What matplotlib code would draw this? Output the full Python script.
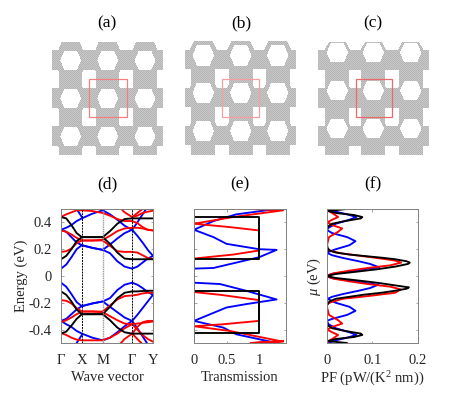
import numpy as np
from matplotlib import pyplot as plt
from matplotlib.patches import Rectangle

plt.rcParams["font.family"] = ["Liberation Serif", "DejaVu Serif"]
plt.rcParams["mathtext.fontset"] = "custom"
plt.rcParams["mathtext.rm"] = "Liberation Serif"
plt.rcParams["mathtext.it"] = "Liberation Serif:italic"

W, H = 464, 395
TEXT = "#262626"
FRAME = "#808080"

# top row lattices: hole centres, hole half sizes, rim, bar offsets, extents, cell box, box colour
panels = [
    dict(label="(a)", lx=107, xs=[70.7, 107.7, 145], ys=[60.3, 98.3, 136.3], hw=10.5, hh=9.5, rim=9.1, ow=16.5,
         bar=(-10, 10), vbar=11.5, ext=(52.3, 162.7, 41.7, 155), box=(89, 79.3, 37.7, 38), col="#f28080"),
    dict(label="(b)", lx=241, xs=[203.3, 240.7, 277.7], ys=[55.3, 92.9, 131], hw=10.8, hh=10.3, rim=4.6, ow=16.3,
         bar=(-5.3, 14), vbar=12, ext=(185, 296, 40.7, 155.3), box=(221.7, 79, 37.6, 38.3), col="#f4a0a0"),
    dict(label="(c)", lx=373, xs=[337.3, 373.3, 410.7], ys=[52.8, 90.7, 128.5], hw=10.8, hh=9.5, rim=2.0, ow=14.5,
         bar=(-2.8, 17.2), vbar=12, ext=(318.3, 429, 42, 155.3), box=(355.7, 79.3, 36.6, 38), col="#e86a6a"),
]

# (d) band structure, energies on a common k grid
k_ticks = [0, 1, 2, 3.41, 4.41]
k_names = ["Γ", "X", "M", "Γ", "Y"]
k_grid = [0, 0.25, 0.5, 0.75, 1, 1.5, 2, 2.35, 2.7, 3.05, 3.41, 3.66, 3.91, 4.16, 4.41]
nan = float("nan")

blue_bands = [
    [.055, .085, .14, .20, .23, .21, .195, .17, .11, .07, .055, .07, .10, .13, .15],
    [.345, .33, .29, .25, .23, .21, .195, .235, .28, .32, .345, .30, .25, .195, .15],
    [.345, .36, .38, .41, .43, .465, .49, .46, .42, .375, .345, .40, .46, .52, .56],
    [.62, .60, .56, .50, .44, nan, nan, nan, nan, nan, nan, nan, nan, nan, nan],
    [-.05, -.08, -.135, -.195, -.225, -.205, -.19, -.165, -.105, -.065, -.05, -.065, -.09, -.12, -.14],
    [-.335, -.32, -.285, -.25, -.225, -.205, -.19, -.23, -.27, -.31, -.335, -.29, -.24, -.19, -.14],
    [-.335, -.36, -.38, -.41, -.43, -.46, -.48, -.46, -.42, -.375, -.335, -.39, -.45, -.51, -.56],
    [-.62, -.60, -.56, -.50, -.44, nan, nan, nan, nan, nan, nan, nan, nan, nan, nan],
]
red_bands = [
    [.18, .185, .205, .245, .265, .265, .265, .225, .185, .18, .18, .175, .155, .135, .125],
    [.34, .33, .31, .285, .265, .265, .27, .30, .335, .355, .36, .36, .355, .345, .34],
    [.44, .46, .475, .49, .49, .485, .47, .45, .425, .41, .41, .395, .365, .345, .34],
    [nan, nan, nan, nan, nan, nan, nan, .62, .53, .475, .44, .47, .50, .54, .58],
    [nan, nan, nan, nan, nan, nan, nan, nan, nan, nan, .44, .45, .47, .48, .487],
    [-.18, -.185, -.205, -.24, -.265, -.265, -.265, -.22, -.175, -.15, -.145, -.14, -.13, -.125, -.125],
    [-.345, -.33, -.31, -.285, -.265, -.265, -.27, -.30, -.33, -.355, -.36, -.355, -.35, -.345, -.34],
    [-.425, -.44, -.46, -.475, -.48, -.48, -.48, -.46, -.43, -.39, -.36, -.40, -.44, -.47, -.49],
    [nan, nan, nan, nan, nan, nan, nan, -.62, -.53, -.47, -.43, -.47, -.51, -.55, -.6],
    [nan, nan, nan, nan, nan, nan, nan, nan, nan, nan, -.43, -.38, -.345, -.335, -.335],
]
black_bands = [
    [.125, .15, .20, .26, .29, .29, .29, .24, .175, .13, .125, .125, .125, .125, .125],
    [.44, .43, .38, .32, .29, .29, .29, .335, .39, .425, .43, .43, .43, .43, .43],
    [-.115, -.14, -.19, -.25, -.285, -.285, -.285, -.23, -.165, -.125, -.115, -.115, -.112, -.11, -.11],
    [-.43, -.415, -.37, -.32, -.285, -.285, -.285, -.33, -.385, -.42, -.43, -.43, -.43, -.43, -.43],
]

# (e) transmission
t_black = [0, 0, 1, 1, 0, 0, 1, 1, 0, 0]
e_black = [.5, .44, .44, .13, .13, -.115, -.115, -.425, -.425, -.5]
t_blue = [1.27, .65, .3, 0, .3, .5, 1.0, 1.27, 1.0, .65, .3, 0, 0, .4, .8, 1.27, .8, .5, 0, .45, .65, 1.27]
e_blue = [.5, .46, .41, .345, .29, .24, .2, .195, .14, .1, .06, .055, -.05, -.06, -.11, -.175, -.21, -.235, -.335, -.385, -.435, -.5]
t_red = [.87, 1.37, .6, 0, .55, 1, 1, .6, 0, 0, .4, 1, 1, .45, 0, .55, 1.37, .87, 1.37]
e_red = [.5, .49, .44, .39, .365, .34, .19, .16, .13, -.12, -.14, -.18, -.335, -.36, -.375, -.41, -.49, -.5, -.485]

# (f) power factor
e_f_black = [.5, .49, .485, .47, .455, .44, .43, .41, .39, .37, .34, .3, .25, .21, .19, .175, .16, .15, .135, .125, .11, .1, .09, .07, .05, .03, .015, 0,
             -.015, -.03, -.05, -.07, -.085, -.095, -.11, -.125, -.14, -.155, -.17, -.19, -.22, -.3, -.34, -.37, -.39, -.41, -.43, -.44, -.455, -.47, -.485, -.49, -.5]
pf_black = [.044, .015, .003, .02, .06, .078, .075, .04, .012, .003, 0, 0, 0, .002, .006, .02, .05, .08, .125, .15, .175, .182, .178, .15, .11, .06, .02, 0,
            .02, .06, .11, .15, .18, .175, .15, .12, .08, .05, .02, .006, 0, 0, 0, .003, .012, .04, .075, .078, .06, .02, .003, .015, .044]
e_f_blue = [.5, .48, .46, .44, .42, .39, .36, .345, .32, .29, .26, .23, .2, .18, .17, .155, .135, .11, .09, .065, .05, .03, .015, 0,
            -.015, -.03, -.05, -.065, -.09, -.11, -.135, -.155, -.17, -.2, -.23, -.26, -.29, -.32, -.335, -.36, -.39, -.42, -.44, -.46, -.48, -.5]
pf_blue = [.004, .02, .045, .065, .05, .02, .004, 0, .012, .045, .063, .05, .02, .004, .002, .012, .035, .07, .095, .115, .08, .04, .01, 0,
           .01, .04, .08, .113, .095, .07, .035, .012, .002, .02, .05, .063, .045, .012, 0, .004, .02, .05, .065, .045, .02, .003]
e_f_red = [.5, .49, .47, .44, .42, .4, .38, .355, .33, .29, .25, .22, .2, .19, .17, .15, .13, .115, .1, .08, .06, .04, .02, 0,
           -.02, -.04, -.06, -.08, -.1, -.125, -.15, -.17, -.2, -.22, -.25, -.29, -.33, -.355, -.38, -.4, -.42, -.44, -.47, -.49, -.5]
pf_red = [.003, .002, .012, .025, .012, .001, .012, .034, .025, .005, .002, 0, .002, .006, .03, .075, .12, .15, .163, .14, .09, .05, .015, 0,
          .015, .05, .09, .14, .162, .15, .09, .035, .005, 0, .002, .005, .025, .034, .012, .001, .012, .025, .012, .002, .003]

fig = plt.figure(figsize=(W / 100, H / 100), dpi=100)


def px_axes(left, right, top, bottom):
    return fig.add_axes([left / W, 1 - bottom / H, (right - left) / W, (bottom - top) / H])


def style(ax):
    ax.tick_params(direction="in", length=1.8, width=0.5, color=FRAME, labelcolor=TEXT,
                   labelsize=10.5, top=True, right=True)
    ax.tick_params(axis="x", pad=8)
    ax.tick_params(axis="y", pad=7)
    for s in ax.spines.values():
        s.set_color(FRAME)
        s.set_linewidth(0.7)


def lattice_mask(p, X, Y):
    x0, x1, y0, y1 = p["ext"]
    solid = np.zeros_like(X, dtype=bool)
    hole = np.zeros_like(X, dtype=bool)
    for cx in p["xs"]:
        for cy in p["ys"]:
            dx, dy = np.abs(X - cx), np.abs(Y - cy)
            ro_h = p["hh"] + p["rim"]
            solid |= (dy <= ro_h) & (dx <= p["ow"] - 0.45 * p["ow"] * dy / ro_h)
            hole |= (dy <= p["hh"]) & (dx <= p["hw"] - 0.4 * p["hw"] * dy / p["hh"])
            # vertical links only run downward from a hole
            solid |= (dx <= p["vbar"]) & (Y >= cy)
            solid |= (Y - cy >= p["bar"][0]) & (Y - cy <= p["bar"][1])
    inside = (X >= x0) & (X <= x1) & (Y >= y0) & (Y <= y1)
    return solid & ~hole & inside


# background layer in pixel coordinates for the three lattices
bg = fig.add_axes([0, 0, 1, 1])
bg.axis("off")
X, Y = np.meshgrid(np.arange(W) + 0.5, np.arange(H) + 0.5)
img = np.ones((H, W))
checker = ((np.arange(W)[None, :] + np.arange(H)[:, None]) % 2) * 0.07
for p in panels:
    m = lattice_mask(p, X, Y)
    img[m] = (0.71 + checker)[m]
    bx, by, bw, bh = p["box"]
    bg.add_patch(Rectangle((bx, by), bw, bh, fill=False, edgecolor=p["col"], linewidth=0.9, zorder=3))
    fig.text(p["lx"] / W, 1 - 23 / H, p["label"], ha="center", va="center", fontsize=12.5, color="black")
bg.imshow(img, cmap="gray", vmin=0, vmax=1, extent=(0, W, H, 0), interpolation="nearest", aspect="auto")
bg.set_xlim(0, W)
bg.set_ylim(H, 0)

for label, lx in zip(["(d)", "(e)", "(f)"], [107, 240, 373]):
    fig.text(lx / W, 1 - 184 / H, label, ha="center", va="center", fontsize=12.5, color="black")

LW = 1.35

# (d)
ax = px_axes(61, 153, 209, 343)
for bands, col in [(blue_bands, "b"), (red_bands, "r"), (black_bands, "k")]:
    for band in bands:
        ax.plot(k_grid, band, color=col, lw=LW)
ax.axvline(k_ticks[1], color="k", lw=0.7, ls=(0, (2, 1)))
ax.axvline(k_ticks[2], color="#999999", lw=1.0, ls=(0, (1, 0.6)))
ax.axvline(k_ticks[3], color="k", lw=0.7, ls=(0, (2, 1)))
ax.set_xlim(0, 4.41)
ax.set_ylim(-0.5, 0.5)
ax.set_xticks(k_ticks, k_names)
ax.set_yticks([-0.4, -0.2, 0, 0.2, 0.4], ["-0.4", "-0.2", "0", "0.2", "0.4"])
ax.set_xlabel("Wave vector", fontsize=10.5, color=TEXT, labelpad=3)
ax.set_ylabel("Energy (eV)", fontsize=10.5, color=TEXT, labelpad=0)
style(ax)

# (e)
ax = px_axes(194, 285.7, 209, 343)
ax.plot(t_blue, e_blue, color="b", lw=LW)
ax.plot(t_red, e_red, color="r", lw=LW)
ax.plot(t_black, e_black, color="k", lw=LW)
ax.set_xlim(0, 1.41)
ax.set_ylim(-0.5, 0.5)
ax.set_xticks([0, 0.5, 1], ["0", "0.5", "1"])
ax.set_yticks([-0.4, -0.2, 0, 0.2, 0.4], [])
ax.set_xlabel("Transmission", fontsize=10.5, color=TEXT, labelpad=3)
style(ax)

# (f)
ax = px_axes(326.7, 418, 209, 343)
ax.plot(pf_blue, e_f_blue, color="b", lw=LW)
ax.plot(pf_red, e_f_red, color="r", lw=LW)
ax.plot(pf_black, e_f_black, color="k", lw=LW)
ax.set_xlim(0, 0.2)
ax.set_ylim(-0.5, 0.5)
ax.set_xticks([0, 0.1, 0.2], ["0", "0.1", "0.2"])
ax.set_yticks([-0.4, -0.2, 0, 0.2, 0.4], [])
ax.set_xlabel("PF (pW/(K$^2$ nm))", fontsize=10.5, color=TEXT, labelpad=2)
ax.set_ylabel(r"$\mu$ (eV)", fontsize=10.5, color=TEXT, labelpad=-4)
style(ax)

fig.savefig("out.png", dpi=100)
